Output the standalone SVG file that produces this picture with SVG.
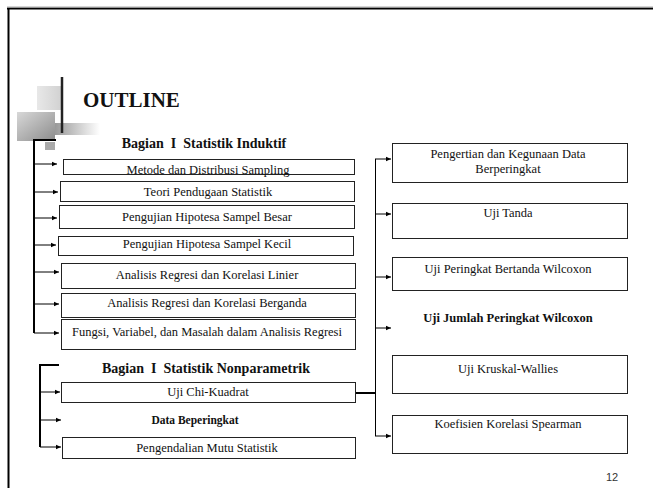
<svg xmlns="http://www.w3.org/2000/svg" width="653" height="488" viewBox="0 0 653 488">
<defs>
<marker id="ah" markerWidth="6" markerHeight="6" refX="5" refY="3" orient="auto" markerUnits="userSpaceOnUse">
<path d="M0,0.8 L5,3 L0,5.2 Z" fill="#000"/>
</marker>
<linearGradient id="gH" x1="0" y1="0" x2="1" y2="0">
<stop offset="0" stop-color="#222"/>
<stop offset="0.4" stop-color="#444"/>
<stop offset="1" stop-color="#888"/>
</linearGradient>
<linearGradient id="gSq1" x1="0" y1="0" x2="1" y2="0">
<stop offset="0" stop-color="#e8e8e8"/>
<stop offset="1" stop-color="#d0d0d0"/>
</linearGradient>
<linearGradient id="gSq2" x1="0" y1="0" x2="1" y2="1">
<stop offset="0" stop-color="#d8d8d8"/>
<stop offset="1" stop-color="#8c8c8c"/>
</linearGradient>
<linearGradient id="gFade" x1="0" y1="0" x2="1" y2="0">
<stop offset="0" stop-color="#999"/>
<stop offset="1" stop-color="#fff"/>
</linearGradient>
</defs>
<style>
.box{fill:#fff;stroke:#222;stroke-width:1}
.t{font-family:"Liberation Serif","Times New Roman",serif;font-size:12.5px;fill:#111;text-anchor:middle}
.tb{font-family:"Liberation Serif","Times New Roman",serif;font-weight:bold;fill:#111;text-anchor:middle;white-space:pre}
.ln{fill:none;stroke:#000;stroke-width:1}
.thick{fill:none;stroke:#000;stroke-width:2}
</style>
<rect width="653" height="488" fill="#fff"/>
<g id="frame">
<line x1="7" y1="8.5" x2="653" y2="8.5" stroke="#000" stroke-width="2"/>
<line x1="7" y1="7" x2="653" y2="7" stroke="#aaa" stroke-width="1"/>
<line x1="8.5" y1="8" x2="8.5" y2="488" stroke="#000" stroke-width="2"/>
</g>
<g id="title">
<rect x="37" y="86" width="26" height="24" fill="url(#gSq1)"/>
<rect x="17" y="112" width="38" height="29" fill="url(#gSq2)"/>
<rect x="55" y="123" width="45" height="12" fill="url(#gFade)"/>
<rect x="45" y="142" width="10" height="8" fill="#aaa"/>
<line x1="34" y1="122" x2="645" y2="122" stroke="url(#gH)" stroke-width="2"/>
<line x1="62" y1="77" x2="62" y2="133" stroke="#222" stroke-width="2.5"/>
<text x="83" y="107" font-family="Liberation Serif,serif" font-weight="bold" font-size="21" fill="#111">OUTLINE</text>
</g>
<g id="connectors">
<path class="thick" d="M56 140 H34 V333"/>
<line class="ln" x1="34" y1="164" x2="57" y2="164" marker-end="url(#ah)"/>
<line class="ln" x1="34" y1="192" x2="58" y2="192" marker-end="url(#ah)"/>
<line class="ln" x1="34" y1="218" x2="57" y2="218" marker-end="url(#ah)"/>
<line class="ln" x1="34" y1="245" x2="56" y2="245" marker-end="url(#ah)"/>
<line class="ln" x1="34" y1="272" x2="59" y2="272" marker-end="url(#ah)"/>
<line class="ln" x1="34" y1="304" x2="59" y2="304" marker-end="url(#ah)"/>
<line class="ln" x1="34" y1="333" x2="59" y2="333" marker-end="url(#ah)"/>
<path class="thick" d="M59 365 H40 V447"/>
<line class="ln" x1="40" y1="392" x2="60" y2="392" marker-end="url(#ah)"/>
<line class="ln" x1="40" y1="420" x2="61" y2="420" marker-end="url(#ah)"/>
<line class="ln" x1="40" y1="447" x2="61" y2="447" marker-end="url(#ah)"/>
<line class="thick" x1="355" y1="393" x2="376" y2="393"/>
<line class="ln" x1="375.5" y1="159" x2="375.5" y2="436"/>
<line class="ln" x1="375" y1="159" x2="391" y2="159" marker-end="url(#ah)"/>
<line class="ln" x1="375" y1="214" x2="391" y2="214" marker-end="url(#ah)"/>
<line class="ln" x1="375" y1="277" x2="391" y2="277" marker-end="url(#ah)"/>
<line class="ln" x1="375" y1="328" x2="391" y2="328" marker-end="url(#ah)"/>
<line class="ln" x1="375" y1="436" x2="391" y2="436" marker-end="url(#ah)"/>
</g>
<g id="h1"><text class="tb" x="204" y="148" font-size="14" xml:space="preserve">Bagian  I  Statistik Induktif</text></g>
<g id="n1"><rect class="box" x="63.5" y="159.5" width="291" height="15"/><text class="t" x="208" y="174">Metode dan Distribusi Sampling</text></g>
<g id="n2"><rect class="box" x="60.5" y="181.5" width="294" height="20"/><text class="t" x="208" y="196">Teori Pendugaan Statistik</text></g>
<g id="n3"><rect class="box" x="59.5" y="205.5" width="295" height="23"/><text class="t" x="207" y="221">Pengujian Hipotesa Sampel Besar</text></g>
<g id="n4"><rect class="box" x="58.5" y="236.5" width="295" height="19"/><text class="t" x="207" y="248">Pengujian Hipotesa Sampel Kecil</text></g>
<g id="n5"><rect class="box" x="61.5" y="263.5" width="294" height="25"/><text class="t" x="207" y="279">Analisis Regresi dan Korelasi Linier</text></g>
<g id="n6"><rect class="box" x="61.5" y="293.5" width="294" height="24"/><text class="t" x="207" y="307">Analisis Regresi dan Korelasi Berganda</text></g>
<g id="n7"><rect class="box" x="61.5" y="319.5" width="294" height="30"/><text class="t" x="207" y="336">Fungsi, Variabel, dan Masalah dalam Analisis Regresi</text></g>
<g id="h2"><text class="tb" x="206" y="373" font-size="14" xml:space="preserve">Bagian  I  Statistik Nonparametrik</text></g>
<g id="n8"><rect class="box" x="61.5" y="382.5" width="294" height="20"/><text class="t" x="208" y="396">Uji Chi-Kuadrat</text></g>
<g id="n9"><text class="tb" x="195" y="424" font-size="11.5">Data Beperingkat</text></g>
<g id="n10"><rect class="box" x="62.5" y="437.5" width="293" height="21"/><text class="t" x="207" y="452">Pengendalian Mutu Statistik</text></g>
<g id="r1"><rect class="box" x="392.5" y="143.5" width="235" height="39"/><text class="t" x="508" y="158">Pengertian dan Kegunaan Data</text><text class="t" x="508" y="173">Berperingkat</text></g>
<g id="r2"><rect class="box" x="392.5" y="203.5" width="235" height="35"/><text class="t" x="508" y="217">Uji Tanda</text></g>
<g id="r3"><rect class="box" x="392.5" y="257.5" width="235" height="33"/><text class="t" x="508" y="273">Uji Peringkat Bertanda Wilcoxon</text></g>
<g id="r4"><text class="tb" x="508" y="322" font-size="12.5">Uji Jumlah Peringkat Wilcoxon</text></g>
<g id="r5"><rect class="box" x="392.5" y="355.5" width="235" height="38"/><text class="t" x="508" y="373">Uji Kruskal-Wallies</text></g>
<g id="r6"><rect class="box" x="392.5" y="415.5" width="235" height="38"/><text class="t" x="508" y="428">Koefisien Korelasi Spearman</text></g>
<text x="612" y="481" font-family="Liberation Sans,sans-serif" font-size="11" fill="#333" text-anchor="middle">12</text>
</svg>
